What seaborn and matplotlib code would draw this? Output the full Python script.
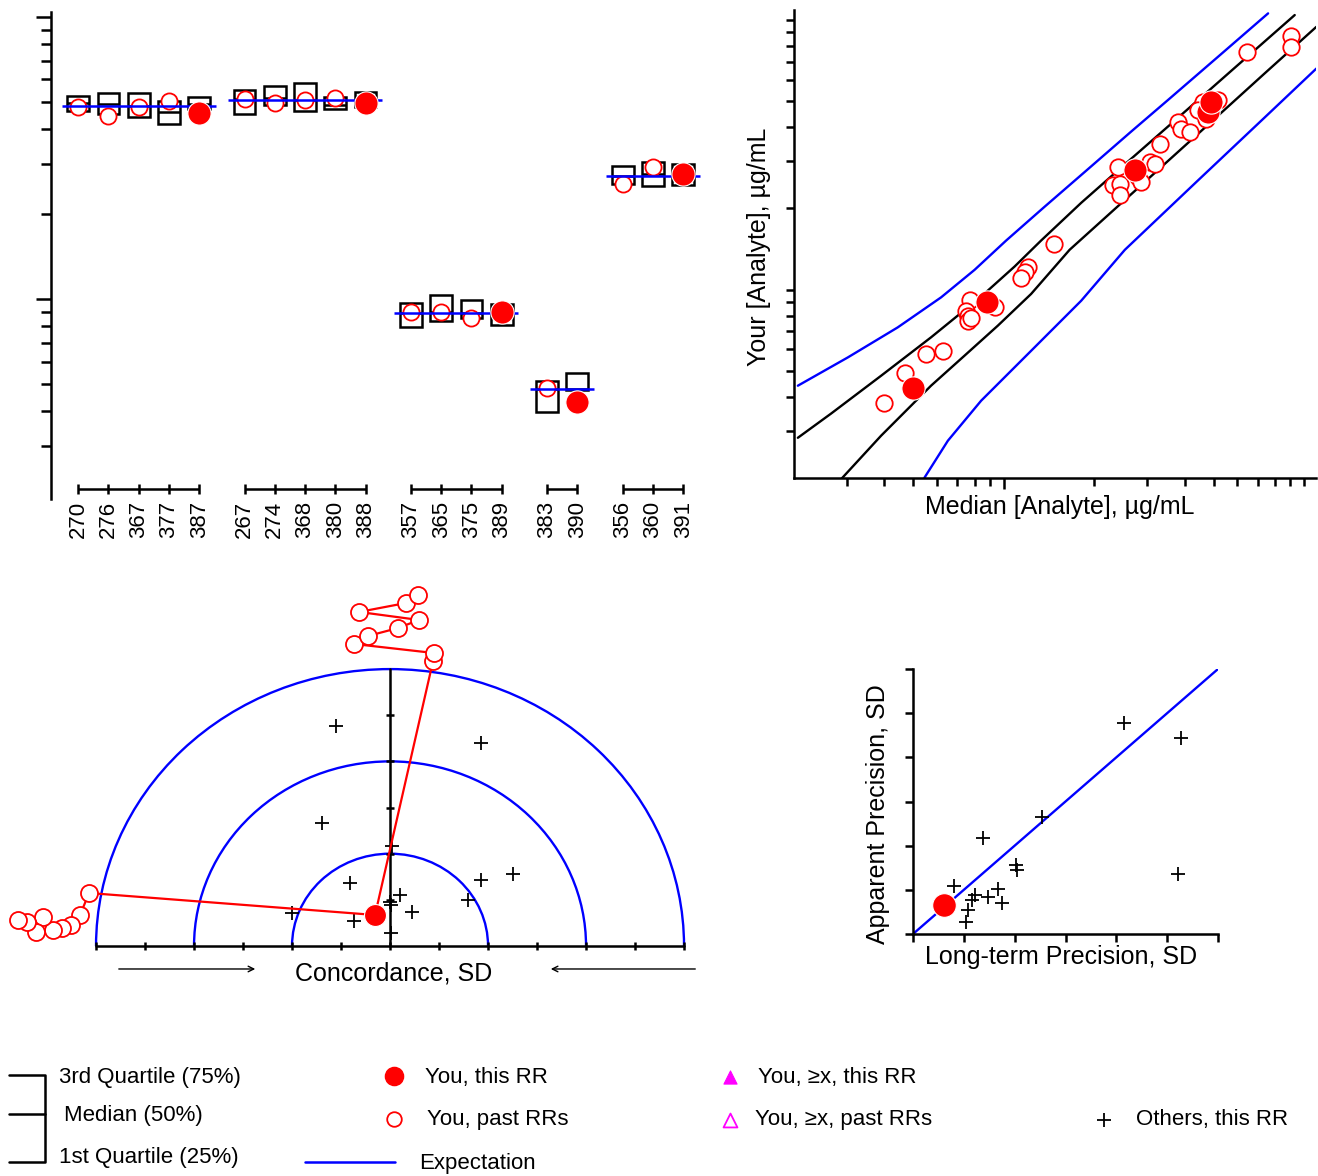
import numpy as np
import matplotlib.pyplot as plt
import seaborn as sns
from matplotlib.patches import Arc
from matplotlib.ticker import NullFormatter

sns.set_style("white")
plt.rcParams['font.family'] = ['Liberation Sans', 'DejaVu Sans']
plt.rcParams['text.color'] = 'black'
plt.rcParams['axes.labelcolor'] = 'black'
plt.rcParams['xtick.color'] = 'black'
plt.rcParams['ytick.color'] = 'black'

RED = "#ff0000"
BLUE = "#0000ff"
MAGENTA = "#ff00ff"
LABEL_FS = 18

# ---------------- top left: your results by round, grouped by analyte ----------------
rr_labels = ["270", "276", "367", "377", "387",
             "267", "274", "368", "380", "388",
             "357", "365", "375", "389",
             "383", "390",
             "356", "360", "391"]
rr_group = [0, 0, 0, 0, 0, 1, 1, 1, 1, 1, 2, 2, 2, 2, 3, 3, 4, 4, 4]
q1 = [4.64, 4.53, 4.42, 4.18, 4.70,
      4.53, 4.88, 4.64, 4.72, 4.80,
      0.796, 0.835, 0.856, 0.809,
      0.397, 0.475,
      2.56, 2.52, 2.54]
q_med = [4.96, 4.91, 4.83, 4.60, 4.90,
         5.12, 5.16, 5.08, 4.88, 5.08,
         0.892, 0.90, 0.892, 0.87,
         0.48, 0.48,
         2.73, 2.77, 2.75]
q3 = [5.25, 5.38, 5.38, 5.04, 5.20,
      5.51, 5.69, 5.83, 5.20, 5.42,
      0.968, 1.033, 0.992, 0.96,
      0.512, 0.547,
      2.96, 3.06, 3.01]
you_past = [4.80, 4.46, 4.80, 5.04, np.nan,
            5.12, 4.96, 5.08, 5.16, np.nan,
            0.90, 0.90, 0.856, np.nan,
            0.483, np.nan,
            2.56, 2.94, np.nan]
this_rr = [4.57, 4.96, 0.90, 0.431, 2.77]
group_expect = [4.83, 5.08, 0.892, 0.480, 2.73]

# ---------------- top right: your value vs median ----------------
median_past = [9.03, 9.03, 6.47, 4.61, 5.17, 4.43, 4.72, 3.80, 3.90, 4.16, 3.32,
               2.40, 3.06, 3.18, 2.80, 2.31, 2.43, 2.43, 2.87, 1.468,
               1.202, 1.172, 1.137, 0.774, 0.931, 0.749, 0.762, 0.759, 0.778,
               0.626, 0.551, 0.469, 0.398]
your_past = [8.72, 7.96, 7.59, 4.97, 5.04, 4.63, 4.31, 4.19, 3.96, 3.84, 3.46,
             2.85, 2.97, 2.92, 2.62, 2.44, 2.47, 2.24, 2.51, 1.479,
             1.218, 1.160, 1.105, 0.916, 0.859, 0.835, 0.800, 0.767, 0.785,
             0.593, 0.577, 0.489, 0.379]
median_this = [4.79, 4.91, 0.880, 0.497, 2.73]

upper_blue_x = [0.206, 0.302, 0.443, 0.618, 0.799, 1.018, 1.367, 1.858, 2.657, 3.52, 5.17, 7.59]
upper_blue_y = [0.440, 0.560, 0.724, 0.936, 1.184, 1.521, 2.03, 2.73, 3.86, 5.05, 7.31, 10.59]
upper_black_x = [0.206, 0.266, 0.390, 0.572, 0.840, 1.086, 1.331, 1.811, 2.657, 3.90, 5.72, 9.31]
upper_black_y = [0.282, 0.347, 0.479, 0.665, 0.942, 1.218, 1.521, 2.10, 3.06, 4.45, 6.48, 10.44]
lower_black_x = [0.287, 0.390, 0.572, 0.740, 0.955, 1.233, 1.656, 2.657, 4.43, 7.39, 10.99]
lower_black_y = [0.198, 0.287, 0.440, 0.569, 0.735, 0.964, 1.405, 2.26, 3.78, 6.34, 9.44]
lower_blue_x = [0.544, 0.651, 0.840, 1.233, 1.811, 2.53, 4.43, 7.39, 10.99]
lower_blue_y = [0.2005, 0.275, 0.387, 0.593, 0.910, 1.405, 2.54, 4.35, 6.61]

# ---------------- bottom left: concordance ----------------
ring_radii = [1, 2, 3]
others_bias = [-0.551, 0.929, -0.694, 0.020, -0.408, 0.929, 1.255, 0.796,
               -1.000, -0.367, 0.102, 0.010, 0.224, 0.010, -0.005]
others_disp = [2.383, 2.199, 1.333, 1.083, 0.683, 0.715, 0.780, 0.498,
               0.358, 0.271, 0.553, 0.444, 0.368, 0.141, 0.480]
you_bias, you_disp = -0.153, 0.336
trail_a_bias = [0.439, 0.449, -0.367, -0.224, 0.082, 0.296, -0.316, 0.163, 0.286]
trail_a_disp = [3.088, 3.174, 3.272, 3.359, 3.445, 3.532, 3.619, 3.716, 3.803]
trail_b_bias = [-3.071, -3.163, -3.255, -3.347, -3.439, -3.541, -3.612, -3.704, -3.796]
trail_b_disp = [0.574, 0.336, 0.228, 0.195, 0.173, 0.314, 0.152, 0.260, 0.282]

# ---------------- bottom right: precision ----------------
longterm_sd = [4.15, 5.28, 2.53, 1.38, 2.02, 2.04, 5.21, 0.81, 1.67, 1.22, 1.47, 1.75, 1.16, 1.08, 1.04]
apparent_sd = [4.77, 4.43, 2.65, 2.17, 1.56, 1.45, 1.36, 1.09, 1.02, 0.88, 0.84, 0.70, 0.77, 0.54, 0.27]
you_longterm, you_apparent = 0.61, 0.66

W, H = 1318, 1176
fig = plt.figure(figsize=(W / 100, H / 100), dpi=100)


def px_axes(left, top, right, bottom):
    return fig.add_axes([left / W, 1 - bottom / H, (right - left) / W, (bottom - top) / H])


# ===== panel 1 =====
ax1 = px_axes(51, 12, 705, 489)
ax1.set_yscale('log')
groups = np.array(rr_group)
pos = np.arange(len(rr_labels)) + 0.5 * groups
q1a, qma, q3a = np.array(q1), np.array(q_med), np.array(q3)
ax1.bar(pos, q3a - q1a, bottom=q1a, width=0.72, fill=False,
        edgecolor='black', linewidth=1.8, zorder=2)
ax1.hlines(qma, pos - 0.36, pos + 0.36, color='black', lw=1.8, zorder=2)
past = np.array(you_past)
ok = ~np.isnan(past)
sns.scatterplot(x=pos[ok], y=past[ok], ax=ax1, marker='o', s=135, color='white',
                edgecolor=RED, linewidth=1.3, zorder=3)
last_pos = []
for g, val in enumerate(group_expect):
    gp = pos[groups == g]
    ax1.hlines(val, gp[0] - 0.55, gp[-1] + 0.55, color=BLUE, lw=1.8, zorder=4)
    last_pos.append(gp[-1])
sns.scatterplot(x=last_pos, y=this_rr, ax=ax1, marker='o', s=280, color=RED,
                edgecolor='white', linewidth=0.8, zorder=5)

xtrans = ax1.get_xaxis_transform()
for g in range(len(group_expect)):
    gp = pos[groups == g]
    ax1.plot([gp[0], gp[-1]], [0, 0], transform=xtrans, color='black', lw=1.8,
             clip_on=False, solid_capstyle='butt')
ax1.set_xlim(-0.9, 20.72)
ax1.set_ylim(0.212, 10.4)
ax1.set_xticks(pos, rr_labels, rotation=90, fontsize=16)
ax1.tick_params(axis='x', direction='inout', length=7, width=1.8, pad=5, bottom=True)
ax1.set_yticks([1, 10])
ax1.set_yticks([0.3, 0.4, 0.5, 0.6, 0.7, 0.8, 0.9, 2, 3, 4, 5, 6, 7, 8, 9], minor=True)
ax1.yaxis.set_major_formatter(NullFormatter())
ax1.yaxis.set_minor_formatter(NullFormatter())
ax1.tick_params(axis='y', which='major', direction='out', length=11, width=1.8, left=True)
ax1.tick_params(axis='y', which='minor', direction='out', length=7, width=1.8, left=True)
for s in ['top', 'right', 'bottom']:
    ax1.spines[s].set_visible(False)
ax1.spines['left'].set_linewidth(1.8)
ax1.spines['left'].set_color('black')
ax1.spines['left'].set_bounds(0.195, 10.4)

# ===== panel 2 =====
ax2 = px_axes(794, 10, 1316, 478)
ax2.set_xscale('log')
ax2.set_yscale('log')
for cx, cy, col in [(upper_blue_x, upper_blue_y, BLUE), (upper_black_x, upper_black_y, 'black'),
                    (lower_black_x, lower_black_y, 'black'), (lower_blue_x, lower_blue_y, BLUE)]:
    sns.lineplot(x=cx, y=cy, ax=ax2, sort=False, estimator=None, color=col, lw=1.7)
sns.scatterplot(x=median_past, y=your_past, ax=ax2, marker='o', s=140, color='white',
                edgecolor=RED, linewidth=1.3, zorder=3)
sns.scatterplot(x=median_this, y=this_rr, ax=ax2, marker='o', s=280, color=RED,
                edgecolor='white', linewidth=0.8, zorder=4)
ax2.set_xlim(0.2, 10.96)
ax2.set_ylim(0.2, 10.9)
ax2.set_xticks([1])
ax2.set_xticks([0.3, 0.4, 0.5, 0.6, 0.7, 0.8, 0.9, 2, 3, 4, 5, 6, 7, 8, 9, 10], minor=True)
ax2.set_yticks([1, 10])
ax2.set_yticks([0.3, 0.4, 0.5, 0.6, 0.7, 0.8, 0.9, 2, 3, 4, 5, 6, 7, 8, 9], minor=True)
for axis in (ax2.xaxis, ax2.yaxis):
    axis.set_major_formatter(NullFormatter())
    axis.set_minor_formatter(NullFormatter())
ax2.tick_params(which='major', axis='x', direction='out', length=8, width=1.8, bottom=True)
ax2.tick_params(which='minor', axis='x', direction='out', length=5.5, width=1.8, bottom=True)
ax2.tick_params(which='both', axis='y', direction='out', length=5.5, width=1.8, left=True)
for s in ['top', 'right']:
    ax2.spines[s].set_visible(False)
for s in ['left', 'bottom']:
    ax2.spines[s].set_linewidth(1.8)
    ax2.spines[s].set_color('black')
ax2.set_xlabel("Median [Analyte], µg/mL", fontsize=LABEL_FS)
ax2.set_ylabel("Your [Analyte], µg/mL", fontsize=LABEL_FS)
ax2.xaxis.set_label_coords(0.51, -0.036)
ax2.yaxis.set_label_coords(-0.044, 0.494)

# ===== panel 3 =====
ax3 = px_axes(0, 585, 710, 1000)
ax3.set_xlim(-3.980, 3.265)
ax3.set_ylim(-0.585, 3.911)
ax3.axis('off')
for r in ring_radii:
    ax3.add_patch(Arc((0, 0), 2 * r, 2 * r, theta1=0, theta2=180, color=BLUE, lw=1.7, zorder=1))
ax3.plot([-3, 3], [0, 0], color='black', lw=1.8, zorder=2)
ax3.plot([0, 0], [0, 3], color='black', lw=1.8, zorder=2)
half_steps = np.arange(-3, 3.01, 0.5)
ax3.plot(half_steps, np.zeros_like(half_steps), ls='none', marker='|', ms=6, mew=1.8,
         color='black', zorder=2)
up_steps = np.arange(0.5, 3.0, 0.5)
ax3.plot(np.zeros_like(up_steps), up_steps, ls='none', marker='_', ms=6, mew=1.8,
         color='black', zorder=2)
sns.scatterplot(x=others_bias, y=others_disp, ax=ax3, marker='+', s=110, color='black',
                linewidth=1.3, zorder=3)
for tb, td in [(trail_a_bias, trail_a_disp), (trail_b_bias, trail_b_disp)]:
    sns.lineplot(x=[you_bias] + tb, y=[you_disp] + td, ax=ax3, sort=False, estimator=None,
                 color=RED, lw=1.6, zorder=4)
    sns.scatterplot(x=tb, y=td, ax=ax3, marker='o', s=150, color='white', edgecolor=RED,
                    linewidth=1.3, zorder=5)
sns.scatterplot(x=[you_bias], y=[you_disp], ax=ax3, marker='o', s=250, color=RED,
                edgecolor='white', linewidth=0.8, zorder=6)
ax3.text(0.04, -0.30, "Concordance, SD", ha='center', va='center', fontsize=LABEL_FS)
ax3.annotate("", xy=(-1.347, -0.249), xytext=(-2.796, -0.249),
             arrowprops=dict(arrowstyle='->', color='black', lw=1.0))
ax3.annotate("", xy=(1.612, -0.249), xytext=(3.143, -0.249),
             arrowprops=dict(arrowstyle='->', color='black', lw=1.0))

# ===== panel 4 =====
ax4 = px_axes(913, 669, 1218, 934)
ax4.set_xlim(0, 6)
ax4.set_ylim(0, 6)
ax4.axline((0, 0), slope=1, color=BLUE, lw=1.7, zorder=1)
sns.scatterplot(x=longterm_sd, y=apparent_sd, ax=ax4, marker='+', s=110, color='black',
                linewidth=1.3, zorder=3)
sns.scatterplot(x=[you_longterm], y=[you_apparent], ax=ax4, marker='o', s=290, color=RED,
                edgecolor='white', linewidth=0.8, zorder=4, clip_on=False)
ax4.set_xticks(range(7))
ax4.set_yticks(range(7))
ax4.xaxis.set_major_formatter(NullFormatter())
ax4.yaxis.set_major_formatter(NullFormatter())
ax4.tick_params(direction='out', length=6, width=1.8, bottom=True, left=True)
for s in ['top', 'right']:
    ax4.spines[s].set_visible(False)
for s in ['left', 'bottom']:
    ax4.spines[s].set_linewidth(1.8)
    ax4.spines[s].set_color('black')
ax4.set_xlabel("Long-term Precision, SD", fontsize=LABEL_FS)
ax4.set_ylabel("Apparent Precision, SD", fontsize=LABEL_FS)
ax4.xaxis.set_label_coords(0.487, -0.042)
ax4.yaxis.set_label_coords(-0.075, 0.453)

# ===== legend (pixel coordinates) =====
axl = fig.add_axes([0, 0, 1, 1], zorder=-1)
axl.set_xlim(0, W)
axl.set_ylim(H, 0)
axl.axis('off')
axl.plot([8.5, 44.5, 44.5, 8.5], [1075, 1075, 1162, 1162], color='black', lw=1.8)
axl.plot([8.5, 44.5], [1114, 1114], color='black', lw=1.8)
LFS = 16
axl.text(59, 1077, "3rd Quartile (75%)", va='center', fontsize=LFS)
axl.text(63.5, 1115, "Median (50%)", va='center', fontsize=LFS)
axl.text(59, 1158, "1st Quartile (25%)", va='center', fontsize=LFS)
sns.scatterplot(x=[394], y=[1076], ax=axl, marker='o', s=170, color=RED, edgecolor=RED)
axl.text(425, 1077, "You, this RR", va='center', fontsize=LFS)
sns.scatterplot(x=[394], y=[1119], ax=axl, marker='o', s=110, color='white', edgecolor=RED,
                linewidth=1.3)
axl.text(427, 1120, "You, past RRs", va='center', fontsize=LFS)
axl.plot([305, 395], [1162, 1162], color=BLUE, lw=1.8)
axl.text(419, 1163, "Expectation", va='center', fontsize=LFS)
sns.scatterplot(x=[730], y=[1077], ax=axl, marker='^', s=90, color=MAGENTA, edgecolor=MAGENTA)
axl.text(758, 1077, "You, ≥x, this RR", va='center', fontsize=LFS)
sns.scatterplot(x=[730], y=[1120], ax=axl, marker='^', s=100, color='white', edgecolor=MAGENTA,
                linewidth=1.3)
axl.text(755, 1120, "You, ≥x, past RRs", va='center', fontsize=LFS)
sns.scatterplot(x=[1104], y=[1120], ax=axl, marker='+', s=100, color='black', linewidth=1.3)
axl.text(1136, 1120, "Others, this RR", va='center', fontsize=LFS)
axl.set_xlim(0, W)
axl.set_ylim(H, 0)

fig.savefig("out.png", dpi=100)
